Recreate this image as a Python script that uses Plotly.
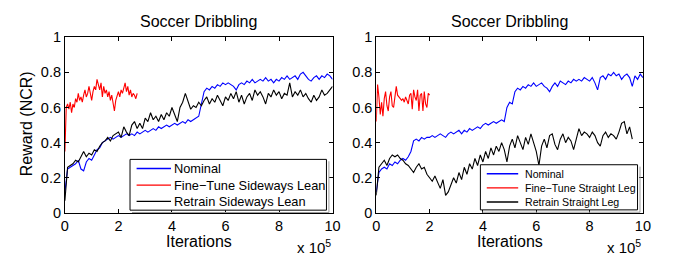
import plotly.graph_objects as go

# ---------------- data ----------------
step = 0.1
left_nominal = [0.12, 0.25, 0.26, 0.27, 0.28, 0.30, 0.25, 0.24, 0.29, 0.31,
                0.30, 0.33, 0.36, 0.37, 0.40, 0.41, 0.42, 0.43, 0.42, 0.43,
                0.44, 0.43, 0.44, 0.45, 0.44, 0.45, 0.44, 0.46, 0.45, 0.46,
                0.47, 0.46, 0.47, 0.48, 0.47, 0.49, 0.48, 0.49, 0.50, 0.49,
                0.50, 0.51, 0.50, 0.51, 0.52, 0.51, 0.53, 0.52, 0.53, 0.54,
                0.55, 0.62, 0.69, 0.71, 0.70, 0.72, 0.71, 0.73, 0.72, 0.74,
                0.73, 0.74, 0.73, 0.72, 0.70, 0.73, 0.74, 0.73, 0.75, 0.74,
                0.76, 0.74, 0.75, 0.76, 0.75, 0.77, 0.75, 0.76, 0.74, 0.76,
                0.75, 0.77, 0.76, 0.78, 0.76, 0.77, 0.78, 0.76, 0.79, 0.80,
                0.78, 0.76, 0.75, 0.77, 0.78, 0.76, 0.78, 0.77, 0.79, 0.78,
                0.76]
left_retrain = [0.07, 0.26, 0.27, 0.28, 0.30, 0.29, 0.32, 0.35, 0.32, 0.34,
                0.33, 0.36, 0.35, 0.38, 0.40, 0.41, 0.43, 0.41, 0.44, 0.45,
                0.46, 0.43, 0.49, 0.46, 0.44, 0.50, 0.52, 0.48, 0.51, 0.48,
                0.54, 0.52, 0.57, 0.53, 0.55, 0.52, 0.56, 0.53, 0.57, 0.55,
                0.60, 0.56, 0.52, 0.60, 0.63, 0.68, 0.64, 0.59, 0.61, 0.60,
                0.63, 0.61, 0.64, 0.66, 0.62, 0.65, 0.63, 0.67, 0.64, 0.61,
                0.66, 0.64, 0.68, 0.65, 0.69, 0.63, 0.67, 0.62, 0.66, 0.68,
                0.64, 0.70, 0.67, 0.69, 0.66, 0.62, 0.68, 0.66, 0.70, 0.67,
                0.69, 0.65, 0.68, 0.67, 0.74, 0.66, 0.69, 0.67, 0.70, 0.66,
                0.68, 0.65, 0.63, 0.67, 0.64, 0.66, 0.70, 0.67, 0.68, 0.70,
                0.72]
red_step = 0.05
left_finetune = [0.35, 0.60, 0.62, 0.59, 0.63, 0.57, 0.62, 0.60, 0.65, 0.63,
                 0.68, 0.64, 0.66, 0.63, 0.67, 0.70, 0.66, 0.68, 0.72, 0.67,
                 0.64, 0.69, 0.72, 0.70, 0.76, 0.73, 0.70, 0.74, 0.66, 0.72,
                 0.68, 0.70, 0.66, 0.69, 0.64, 0.67, 0.62, 0.58, 0.64, 0.67,
                 0.69, 0.66, 0.70, 0.68, 0.72, 0.74, 0.69, 0.72, 0.67, 0.70,
                 0.66, 0.68, 0.67, 0.65, 0.68]

right_nominal = [0.12, 0.23, 0.25, 0.26, 0.25, 0.28, 0.27, 0.29, 0.28, 0.30,
                 0.31, 0.30, 0.32, 0.35, 0.41, 0.42, 0.41, 0.43, 0.42, 0.43,
                 0.43, 0.44, 0.43, 0.44, 0.45, 0.44, 0.43, 0.45, 0.46, 0.45,
                 0.46, 0.47, 0.45, 0.47, 0.46, 0.48, 0.47, 0.48, 0.49, 0.48,
                 0.50, 0.51, 0.50, 0.51, 0.52, 0.51, 0.52, 0.53, 0.52, 0.60,
                 0.63, 0.62, 0.69, 0.71, 0.70, 0.72, 0.71, 0.73, 0.72, 0.74,
                 0.72, 0.73, 0.74, 0.72, 0.71, 0.69, 0.72, 0.74, 0.72, 0.75,
                 0.74, 0.73, 0.75, 0.74, 0.76, 0.75, 0.76, 0.75, 0.77, 0.76,
                 0.75, 0.77, 0.74, 0.70, 0.77, 0.78, 0.76, 0.79, 0.78, 0.80,
                 0.78, 0.79, 0.76, 0.78, 0.79, 0.77, 0.72, 0.78, 0.76, 0.79,
                 0.77]
right_retrain = [0.10, 0.26, 0.28, 0.30, 0.27, 0.31, 0.33, 0.32, 0.33, 0.31,
                 0.30, 0.28, 0.27, 0.25, 0.23, 0.26, 0.28, 0.25, 0.26, 0.22,
                 0.20, 0.18, 0.21, 0.17, 0.14, 0.19, 0.10, 0.12, 0.16, 0.20,
                 0.17, 0.23, 0.19, 0.26, 0.22, 0.28, 0.25, 0.31, 0.27, 0.33,
                 0.29, 0.35, 0.31, 0.37, 0.33, 0.38, 0.35, 0.40, 0.36, 0.29,
                 0.38, 0.42, 0.37, 0.44, 0.40, 0.36, 0.43, 0.39, 0.45, 0.40,
                 0.35, 0.27, 0.38, 0.42, 0.37, 0.44, 0.45, 0.39, 0.36, 0.42,
                 0.45, 0.40, 0.43, 0.41, 0.36, 0.42, 0.48, 0.44, 0.46, 0.45,
                 0.43, 0.46, 0.44, 0.40, 0.38, 0.44, 0.46, 0.43, 0.45, 0.44,
                 0.42, 0.46, 0.51, 0.52, 0.45, 0.49, 0.42]
right_finetune = [0.52, 0.73, 0.66, 0.56, 0.63, 0.55, 0.65, 0.69, 0.61, 0.58,
                  0.66, 0.69, 0.61, 0.60, 0.66, 0.72, 0.67, 0.66, 0.65, 0.64,
                  0.65, 0.63, 0.66, 0.64, 0.62, 0.67, 0.68, 0.59, 0.70, 0.66,
                  0.64, 0.70, 0.58, 0.67, 0.68, 0.58, 0.69, 0.62, 0.60, 0.68,
                  0.67]

x_ticks = [0, 2, 4, 6, 8, 10]
y_ticks = [0, 0.2, 0.4, 0.6, 0.8, 1]
y_tick_text = ["0", "0.2", "0.4", "0.6", "0.8", "1"]
title_text = "Soccer Dribbling"
left_names = ["Nominal", "Fine\u2212Tune Sideways Lean", "Retrain Sideways Lean"]
right_names = ["Nominal", "Fine\u2212Tune Straight Leg", "Retrain Straight Leg"]
colors = ["#0000ff", "#ff0000", "#000000"]


def xs(values, dx):
    return [round(i * dx, 4) for i in range(len(values))]


FONT = "Arial, Liberation Sans, sans-serif"
W, H = 675, 268


def PX(x):
    return x / W


def PY(y):
    return 1 - y / H


fig = go.Figure()


def add_panel(nom, ft, rt, names, xa, ya):
    for vals, dx, color, name in [(nom, step, colors[0], names[0]),
                                  (ft, red_step, colors[1], names[1]),
                                  (rt, step, colors[2], names[2])]:
        fig.add_trace(go.Scatter(x=xs(vals, dx), y=vals, mode="lines", name=name,
                                 line=dict(color=color, width=1.1),
                                 xaxis=xa, yaxis=ya, showlegend=False))


add_panel(left_nominal, left_finetune, left_retrain, left_names, "x", "y")
add_panel(right_nominal, right_finetune, right_retrain, right_names, "x2", "y2")

ydom = [PY(218), PY(31)]
lx = [PX(62), PX(334.5)]
rx = [PX(379), PX(650.5)]

axis_common = dict(showline=True, linecolor="black", linewidth=1, mirror="ticks",
                   ticks="inside", ticklen=4, tickcolor="black", showgrid=False,
                   zeroline=False, tickfont=dict(family=FONT, size=14.5, color="black"))

fig.update_layout(
    width=W, height=H, margin=dict(l=0, r=0, t=0, b=0, pad=0),
    paper_bgcolor="white", plot_bgcolor="white",
    font=dict(family=FONT, color="black"),
    xaxis=dict(domain=lx, range=[0, 10], tickvals=x_ticks, anchor="y", **axis_common),
    yaxis=dict(domain=ydom, range=[0, 1], tickvals=y_ticks, ticktext=y_tick_text,
               anchor="x", **axis_common),
    xaxis2=dict(domain=rx, range=[0, 10], tickvals=x_ticks, anchor="y2", **axis_common),
    yaxis2=dict(domain=ydom, range=[0, 1], tickvals=y_ticks, ticktext=y_tick_text,
                anchor="x2", **axis_common),
    showlegend=False,
)

ann = []
shapes = []
for cx in [(lx[0] + lx[1]) / 2, (rx[0] + rx[1]) / 2]:
    ann.append(dict(text=title_text, x=cx, y=PY(14), xref="paper", yref="paper",
                    xanchor="center", yanchor="middle", showarrow=False,
                    font=dict(family=FONT, size=16, color="black")))
    ann.append(dict(text="Iterations", x=cx, y=PY(248), xref="paper", yref="paper",
                    xanchor="center", yanchor="middle", showarrow=False,
                    font=dict(family=FONT, size=16, color="black")))
for edge in [lx[1], rx[1]]:
    ann.append(dict(text="x 10<sup>5</sup>", x=edge, y=PY(254), xref="paper", yref="paper",
                    xanchor="right", yanchor="middle", showarrow=False,
                    font=dict(family=FONT, size=15, color="black")))
ann.append(dict(text="Reward (NCR)", x=PX(22.5), y=PY(123.5), xref="paper", yref="paper",
                xanchor="center", yanchor="middle", textangle=-90, showarrow=False,
                font=dict(family=FONT, size=16, color="black")))

# legend boxes (drawn as layout decorations, MATLAB style)
legend_specs = [
    # names, box left, top, right, bottom, line x0, line x1, text x, row ys, font size
    (left_names, 128.3, 161, 328.3, 215, 135, 170, 171.5, [170.7, 188.3, 205.7], 12.8),
    (right_names, 485, 166.7, 645, 214.7, 491.5, 523.5, 528, [176.3, 191.3, 206.3], 10.6),
]
for names, bl, bt, br, bb, l0, l1, tx, rows, fs in legend_specs:
    shapes.append(dict(type="rect", xref="paper", yref="paper",
                       x0=PX(bl), x1=PX(br), y0=PY(bb), y1=PY(bt),
                       line=dict(color="black", width=1), fillcolor="white", layer="above"))
    shapes.append(dict(type="line", xref="paper", yref="paper",
                       x0=PX(br + 2.5), x1=PX(br + 2.5), y0=PY(bb + 2.5), y1=PY(bt + 2),
                       line=dict(color="#9a9a9a", width=1), layer="above"))
    shapes.append(dict(type="line", xref="paper", yref="paper",
                       x0=PX(bl + 2), x1=PX(br + 2.5), y0=PY(bb + 2.5), y1=PY(bb + 2.5),
                       line=dict(color="#9a9a9a", width=1), layer="above"))
    for name, color, ry in zip(names, colors, rows):
        shapes.append(dict(type="line", xref="paper", yref="paper",
                           x0=PX(l0), x1=PX(l1), y0=PY(ry), y1=PY(ry),
                           line=dict(color=color, width=1.3), layer="above"))
        ann.append(dict(text=name, x=PX(tx), y=PY(ry), xref="paper", yref="paper",
                        xanchor="left", yanchor="middle", showarrow=False,
                        font=dict(family=FONT, size=fs, color="black")))

fig.update_layout(annotations=ann, shapes=shapes)

fig.write_html("out.html", config={"displayModeBar": False},
               post_script="document.body.style.margin='0';document.body.style.overflow='hidden';")
